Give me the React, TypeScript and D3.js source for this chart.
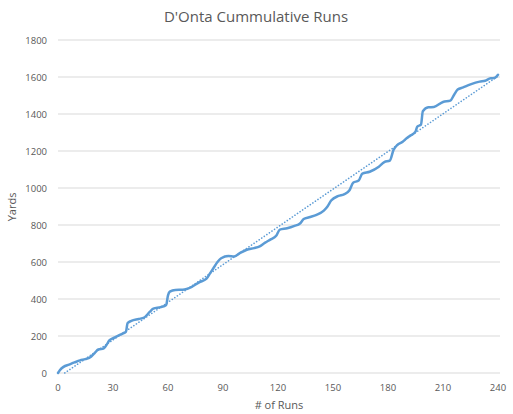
import React from "react";
import * as d3 from "d3";

const title = "D'Onta Cummulative Runs";
const xLabel = "# of Runs";
const yLabel = "Yards";

const runs = [0, 1, 3, 6, 9, 12, 15, 18, 20, 22, 25, 27, 28, 31, 35, 37, 38, 40, 44, 47, 50, 52, 56, 59, 60, 61, 64, 68, 73, 77, 81, 83, 85, 87, 89, 93, 96, 99, 103, 107, 110, 113, 116, 119, 121, 125, 129, 132, 134, 137, 141, 145, 147, 149, 153, 156, 159, 161, 164, 166, 170, 175, 178, 181, 183, 185, 188, 190, 192, 195, 196, 198, 199, 202, 205, 210, 214, 216, 218, 221, 225, 230, 233, 236, 238, 240];
const yards = [0, 15, 33, 45, 57, 68, 75, 88, 108, 127, 133, 160, 176, 192, 212, 222, 270, 282, 292, 300, 330, 348, 356, 368, 420, 440, 449, 450, 466, 490, 510, 540, 570, 600, 620, 632, 630, 647, 666, 675, 685, 705, 722, 742, 775, 782, 795, 808, 832, 842, 855, 878, 900, 932, 957, 966, 988, 1029, 1040, 1078, 1088, 1115, 1140, 1148, 1205, 1232, 1250, 1268, 1282, 1305, 1332, 1342, 1415, 1436, 1438, 1465, 1472, 1503, 1532, 1544, 1560, 1575, 1580, 1593, 1594, 1612];

const xTicks = [0, 30, 60, 90, 120, 150, 180, 210, 240];
const yTicks = [0, 200, 400, 600, 800, 1000, 1200, 1400, 1600, 1800];

const W = 513;
const H = 414;
const color = "#5B9BD5";
const font = "'Open Sans', sans-serif";

export default function App() {
  const x = d3.scaleLinear().domain([0, 240]).range([58, 498]);
  const y = d3.scaleLinear().domain([0, 1800]).range([373, 40]);
  const pts: [number, number][] = runs.map((r, i) => [r, yards[i]]);

  const line = d3
    .line<[number, number]>()
    .x((d) => x(d[0]))
    .y((d) => y(d[1]))
    .curve(d3.curveMonotoneX);

  // linear trendline (least squares)
  const mx = d3.mean(runs) as number;
  const my = d3.mean(yards) as number;
  let num = 0;
  let den = 0;
  runs.forEach((r, i) => {
    num += (r - mx) * (yards[i] - my);
    den += (r - mx) * (r - mx);
  });
  const slope = num / den;
  const intercept = my - slope * mx;
  const x0 = Math.max(0, -intercept / slope);
  const trend: [number, number][] = [
    [x0, slope * x0 + intercept],
    [240, slope * 240 + intercept],
  ];

  return (
    <svg
      width={W}
      height={H}
      style={{ position: "absolute", left: 0, top: 0, background: "#fff" }}
    >
      <text
        x={256}
        y={22}
        textAnchor="middle"
        fontFamily={font}
        fontSize={15}
        fill="#595959"
      >
        {title}
      </text>
      {yTicks.map((t) => (
        <g key={t}>
          <line
            x1={58}
            x2={500}
            y1={y(t)}
            y2={y(t)}
            stroke="#d9d9d9"
            strokeWidth={1}
          />
          <text
            x={47}
            y={y(t) + 3.5}
            textAnchor="end"
            fontFamily={font}
            fontSize={9.5}
            fill="#595959"
          >
            {t}
          </text>
        </g>
      ))}
      {xTicks.map((t) => (
        <text
          key={t}
          x={x(t)}
          y={391}
          textAnchor="middle"
          fontFamily={font}
          fontSize={9.5}
          fill="#595959"
        >
          {t}
        </text>
      ))}
      <text
        x={279}
        y={409}
        textAnchor="middle"
        fontFamily={font}
        fontSize={11}
        fill="#595959"
      >
        {xLabel}
      </text>
      <text
        transform={`translate(16,207) rotate(-90)`}
        textAnchor="middle"
        fontFamily={font}
        fontSize={11}
        fill="#595959"
      >
        {yLabel}
      </text>
      <path
        d={line(trend) || ""}
        fill="none"
        stroke={color}
        strokeWidth={1.6}
        strokeDasharray="0.1 3"
        strokeLinecap="round"
      />
      <path
        d={line(pts) || ""}
        fill="none"
        stroke={color}
        strokeWidth={2.5}
        strokeLinejoin="round"
        strokeLinecap="round"
      />
    </svg>
  );
}
